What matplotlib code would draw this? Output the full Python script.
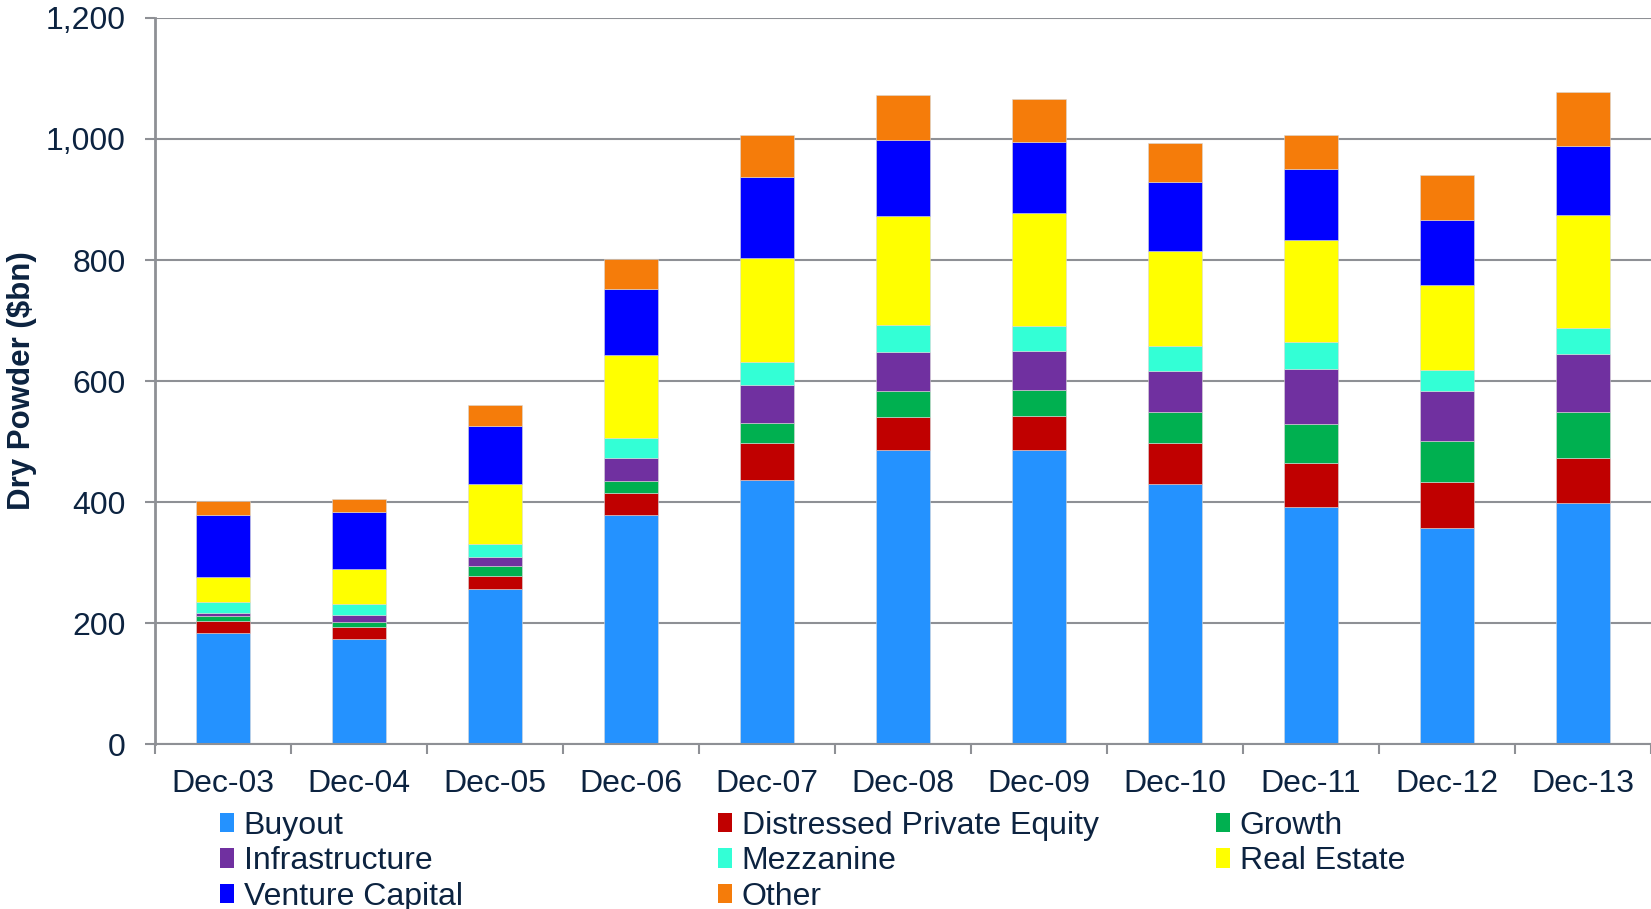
import matplotlib
matplotlib.use("Agg")
import matplotlib.pyplot as plt
from matplotlib.patches import Patch
from matplotlib.ticker import FuncFormatter, MultipleLocator
import numpy as np

plt.rcParams["font.family"] = ["Liberation Sans", "DejaVu Sans"]

periods = ["Dec-03", "Dec-04", "Dec-05", "Dec-06", "Dec-07", "Dec-08",
           "Dec-09", "Dec-10", "Dec-11", "Dec-12", "Dec-13"]

# dry powder by strategy, $bn
buyout = [183.7, 174.9, 256.0, 378.1, 436.7, 486.1, 486.4, 430.8, 391.7, 357.1, 398.9]
distressed = [20.4, 18.2, 22.6, 37.5, 60.8, 54.6, 56.7, 67.2, 73.3, 75.9, 74.3]
growth = [8.3, 9.9, 15.5, 19.9, 33.5, 42.7, 42.4, 51.2, 64.4, 68.3, 76.5]
infrastructure = [5.0, 10.0, 14.9, 37.5, 63.2, 64.8, 64.4, 67.7, 90.2, 82.0, 95.8]
mezzanine = [18.2, 19.3, 21.5, 33.6, 36.9, 44.9, 41.8, 40.7, 45.7, 35.8, 41.8]
real_estate = [40.3, 56.8, 99.8, 136.4, 172.9, 180.0, 185.5, 158.0, 167.4, 139.3, 186.6]
venture = [103.1, 94.3, 95.5, 108.6, 133.0, 125.0, 118.4, 113.9, 117.2, 107.3, 114.0]
other = [23.8, 22.7, 34.8, 49.5, 70.0, 75.0, 69.9, 63.9, 57.3, 75.4, 89.7]

series = [
    ("Buyout", buyout, "#2492ff"),
    ("Distressed Private Equity", distressed, "#c00000"),
    ("Growth", growth, "#00b050"),
    ("Infrastructure", infrastructure, "#7030a0"),
    ("Mezzanine", mezzanine, "#33ffd6"),
    ("Real Estate", real_estate, "#ffff00"),
    ("Venture Capital", venture, "#0000ff"),
    ("Other", other, "#f57c0a"),
]

text_col = "#0c2340"
grid_col = "#8e9095"

fig = plt.figure(figsize=(16.51, 9.09), dpi=100)
ax = fig.add_axes([155 / 1651, 1 - 744.4 / 909, 1 - 155 / 1651, (744.4 - 17.9) / 909])

x = np.arange(len(periods))
bottom = np.zeros(len(periods))
handles = {}
for name, vals, col in series:
    ax.bar(x, vals, width=0.4, bottom=bottom, color=col,
           edgecolor="#d8d8d8", linewidth=0.4, zorder=2)
    bottom += np.array(vals)
    handles[name] = Patch(facecolor=col, edgecolor="none")

ax.set_xlim(-0.5, len(periods) - 0.5)
ax.set_ylim(0, 1200)
ax.yaxis.set_major_locator(MultipleLocator(200))
ax.yaxis.set_major_formatter(FuncFormatter(lambda v, p: f"{int(v):,}"))
ax.grid(axis="y", color=grid_col, linewidth=1.5, zorder=0)
ax.set_axisbelow(True)

ax.set_xticks(x)
ax.set_xticklabels(periods)
ax.set_xticks(np.arange(-0.5, len(periods)), minor=True)
ax.tick_params(axis="x", which="major", length=0, pad=18, labelsize=23, labelcolor=text_col)
ax.tick_params(axis="x", which="minor", length=7, width=1.5, color=grid_col, direction="out")
ax.tick_params(axis="y", length=7, width=1.5, color=grid_col, pad=14, labelsize=23, labelcolor=text_col)

for s in ["top", "right"]:
    ax.spines[s].set_visible(False)
ax.spines["left"].set_color(grid_col)
ax.spines["left"].set_linewidth(2)
ax.spines["bottom"].set_color(grid_col)
ax.spines["bottom"].set_linewidth(1.5)

fig.text(22 / 1651, 1 - 381 / 909, "Dry Powder ($bn)", rotation=90, ha="center", va="center",
         fontsize=22.5, fontweight="bold", color=text_col)

# legend laid out row by row in three columns
columns = [
    ["Buyout", "Infrastructure", "Venture Capital"],
    ["Distressed Private Equity", "Mezzanine", "Other"],
    ["Growth", "Real Estate"],
]
col_x = [220, 718, 1216]
for names, cx in zip(columns, col_x):
    leg = fig.legend([handles[n] for n in names], names, loc="upper left",
                     bbox_to_anchor=(cx / 1651, 1 - 811 / 909), frameon=False,
                     fontsize=23, handlelength=0.44, handleheight=0.56,
                     handletextpad=0.3, labelspacing=0.17, borderpad=0, borderaxespad=0)
    for t in leg.get_texts():
        t.set_color(text_col)

fig.savefig("out.png", dpi=100)
